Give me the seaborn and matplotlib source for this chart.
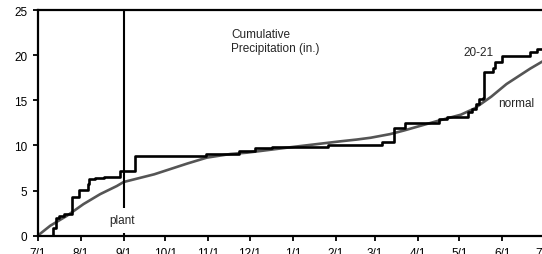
import pandas as pd
import matplotlib
matplotlib.use("Agg")
import matplotlib.pyplot as plt
import matplotlib.dates as mdates
import seaborn as sns

# 2020-21 season, days after 7/1
start = pd.Timestamp("2020-07-01")

# observed cumulative precipitation 20-21 (step changes)
obs_days = [0, 11, 13, 15, 19, 25, 30, 36, 37, 41, 48, 59, 70, 121, 145, 157,
            169, 209, 248, 257, 265, 289, 295, 310, 313, 316, 318, 321, 322,
            328, 330, 335, 355, 360, 365]
obs_precip = [0, 0.85, 2.0, 2.2, 2.45, 4.3, 5.1, 5.7, 6.3, 6.4, 6.5, 7.2, 8.8,
              9.0, 9.4, 9.67, 9.8, 10.0, 10.4, 11.9, 12.5, 12.9, 13.2, 13.65,
              14.0, 14.6, 15.1, 15.3, 18.1, 18.6, 19.2, 19.9, 20.35, 20.65, 20.7]

# normal cumulative precipitation
norm_days = [0, 9, 21, 33, 45, 57, 62, 84, 108, 122, 139, 151, 185, 218, 230,
             240, 254, 264, 288, 305, 315, 327, 338, 346, 355, 365]
norm_precip = [0, 1.1, 2.2, 3.5, 4.6, 5.5, 5.95, 6.8, 8.0, 8.65, 9.05, 9.2,
               9.85, 10.45, 10.65, 10.85, 11.25, 11.65, 12.7, 13.4, 14.1, 15.4,
               16.8, 17.6, 18.5, 19.4]

plant_date = "2020-09-01"
y_ticks = [0, 5, 10, 15, 20, 25]

df_obs = pd.DataFrame({"date": start + pd.to_timedelta(obs_days, unit="D"),
                       "precip": obs_precip})
df_norm = pd.DataFrame({"date": start + pd.to_timedelta(norm_days, unit="D"),
                        "precip": norm_precip})

sns.set_theme(style="ticks")
plt.rcParams["font.family"] = ["Liberation Sans", "DejaVu Sans"]

fig = plt.figure(figsize=(5.42, 2.55), dpi=100)
ax = fig.add_axes([0.0696, 0.0718, 0.934, 0.885])

sns.lineplot(data=df_norm, x="date", y="precip", color="#555555",
             linewidth=1.9, ax=ax)
sns.lineplot(data=df_obs, x="date", y="precip", color="black",
             linewidth=1.9, drawstyle="steps-post", ax=ax)

# planting date
ax.axvline(pd.Timestamp(plant_date), color="black", linewidth=1.5)

ax.set_xlim(start, pd.Timestamp("2021-07-01"))
ax.set_ylim(0, 25)
ax.set_yticks(y_ticks)

ax.xaxis.set_major_locator(mdates.MonthLocator(bymonthday=1))
ax.xaxis.set_major_formatter(mdates.DateFormatter("%-m/%-d"))

for s in ["left", "bottom", "top"]:
    ax.spines[s].set_linewidth(1.6)
    ax.spines[s].set_color("black")
ax.spines["right"].set_visible(False)
ax.tick_params(axis="both", direction="out", length=3.5, width=1.3,
               labelsize=8.5, colors="black")
ax.tick_params(axis="x", pad=4.5)
ax.tick_params(axis="y", pad=4)
ax.set_xlabel(None)
ax.set_ylabel(None)

def day(n):
    return start + pd.Timedelta(days=n)

ax.text(day(139.5), 23.0, "Cumulative\nPrecipitation (in.)", fontsize=8.5,
        va="top", ha="left", linespacing=1.25)
ax.text(day(307), 20.4, "20-21", fontsize=8.5, va="center", ha="left")
ax.text(day(332), 14.7, "normal", fontsize=8.5, va="center", ha="left")
ax.text(day(51.5), 1.7, "plant", fontsize=8.5, va="center", ha="left",
        bbox=dict(facecolor="white", edgecolor="none", pad=4.5))

plt.savefig("out.png", dpi=100)
